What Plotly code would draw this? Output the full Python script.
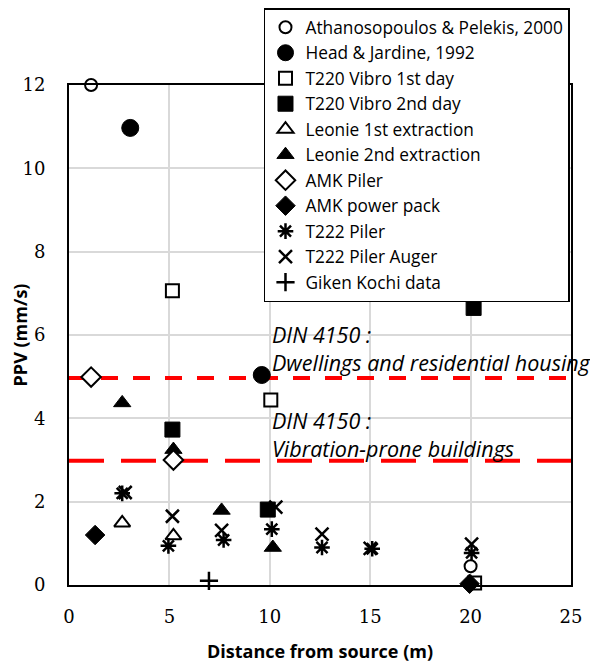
import plotly.graph_objects as go

# ---- data (distance m, PPV mm/s) ----
athan_x = [1.1, 20.0]
athan_y = [12.0, 0.45]
head_x = [3.05, 9.6]
head_y = [10.97, 5.04]
t220_d1_x = [5.15, 10.05, 20.2]
t220_d1_y = [7.06, 4.44, 0.05]
t220_d2_x = [20.15, 5.15, 9.9]
t220_d2_y = [6.65, 3.73, 1.81]
leo1_x = [2.65, 5.2]
leo1_y = [1.49, 1.18]
leo2_x = [2.65, 5.2, 7.6, 10.15]
leo2_y = [4.37, 3.25, 1.79, 0.9]
amk_piler_x = [1.1, 5.2]
amk_piler_y = [4.99, 3.0]
amk_pp_x = [1.3, 19.95]
amk_pp_y = [1.2, 0.03]
t222_x = [2.65, 4.95, 7.7, 10.1, 12.6, 15.1, 20.05]
t222_y = [2.2, 0.94, 1.08, 1.34, 0.9, 0.87, 0.77]
t222a_x = [2.8, 5.15, 7.6, 10.3, 12.6, 15.0, 20.05]
t222a_y = [2.22, 1.65, 1.31, 1.87, 1.22, 0.88, 0.98]
giken_x = [6.97]
giken_y = [0.1]

din_x = [0, 25]
din_res_y = [4.97, 4.97]
din_vib_y = [2.98, 2.98]
din_labels = ["<i>DIN 4150 :<br>Dwellings and residential housing</i>",
              "<i>DIN 4150 :<br>Vibration-prone buildings</i>"]
din_label_x = [10.0, 10.0]
din_label_y = [5.68, 3.61]

fig = go.Figure()

# DIN lines
fig.add_trace(go.Scatter(x=din_x, y=din_res_y, mode="lines", showlegend=False,
                         line=dict(color="#ff0000", width=4, dash="17px,15px"), hoverinfo="skip"))
fig.add_trace(go.Scatter(x=din_x, y=din_vib_y, mode="lines", showlegend=False,
                         line=dict(color="#ff0000", width=4, dash="35px,17px"), hoverinfo="skip"))

def add(name, x, y, symbol, size, fill, lw=2):
    fig.add_trace(go.Scatter(
        x=x, y=y, mode="markers", name=name, cliponaxis=False,
        marker=dict(symbol=symbol, size=size, color=fill,
                    line=dict(color="black", width=lw))))

add("Athanosopoulos & Pelekis, 2000", athan_x, athan_y, "circle", 12, "white")
add("Head & Jardine, 1992", head_x, head_y, "circle", 17, "black", 1)
add("T220 Vibro 1st day", t220_d1_x, t220_d1_y, "square", 13, "white")
add("T220 Vibro 2nd day", t220_d2_x, t220_d2_y, "square", 15, "black", 1)
add("Leonie 1st extraction", leo1_x, leo1_y, "triangle-up", 14, "white")
add("Leonie 2nd extraction", leo2_x, leo2_y, "triangle-up", 15, "black", 1)
add("AMK Piler", amk_piler_x, amk_piler_y, "diamond", 15, "white")
add("AMK power pack", amk_pp_x, amk_pp_y, "diamond", 15, "black", 1)
add("T222 Piler", t222_x, t222_y, "asterisk-open", 13, "black", 2.5)
add("T222 Piler Auger", t222a_x, t222a_y, "x-thin-open", 13, "black", 2.5)
add("Giken Kochi data", giken_x, giken_y, "cross-thin-open", 13, "black", 2.5)

ann_font = dict(family="Open Sans", size=21.5, color="black")
for txt, xv, yv in zip(din_labels, din_label_x, din_label_y):
    fig.add_annotation(x=xv, y=yv, text=txt, showarrow=False, xanchor="left",
                       yanchor="middle", align="left", font=ann_font)

# the page body has an 8px margin, so the figure is shrunk/shifted by 8px
fig.update_layout(
    width=590, height=660,
    margin=dict(l=61, r=27, t=77, b=83, autoexpand=False),
    paper_bgcolor="white", plot_bgcolor="white",
    showlegend=True,
    legend=dict(x=0.998, y=1.154, xanchor="right", yanchor="top",
                bgcolor="white", bordercolor="black", borderwidth=1.5,
                font=dict(family="Open Sans", size=17.3, color="black"),
                itemwidth=30, tracegroupgap=0),
    xaxis=dict(range=[0, 25], tickvals=[0, 5, 10, 15, 20, 25], automargin=False,
               showgrid=True, gridcolor="#d9d9d9", gridwidth=1.5,
               showline=True, linecolor="black", linewidth=2, mirror=True,
               zeroline=False, ticks="", ticklabelstandoff=14,
               tickfont=dict(family="DejaVu Serif", size=18, color="black"),
               title=dict(text="<b>Distance from source (m)</b>", standoff=20,
                          font=dict(family="Open Sans", size=18, color="black"))),
    yaxis=dict(range=[0, 12], tickvals=[0, 2, 4, 6, 8, 10, 12], automargin=False,
               showgrid=True, gridcolor="#d9d9d9", gridwidth=1.5,
               showline=True, linecolor="black", linewidth=2, mirror=True,
               zeroline=False, ticks="", ticklabelstandoff=18,
               tickfont=dict(family="DejaVu Serif", size=18, color="black"),
               title=dict(text="<b>PPV (mm/s)</b>", standoff=6,
                          font=dict(family="Open Sans", size=18, color="black"))),
)

fig.write_html("out.html")
